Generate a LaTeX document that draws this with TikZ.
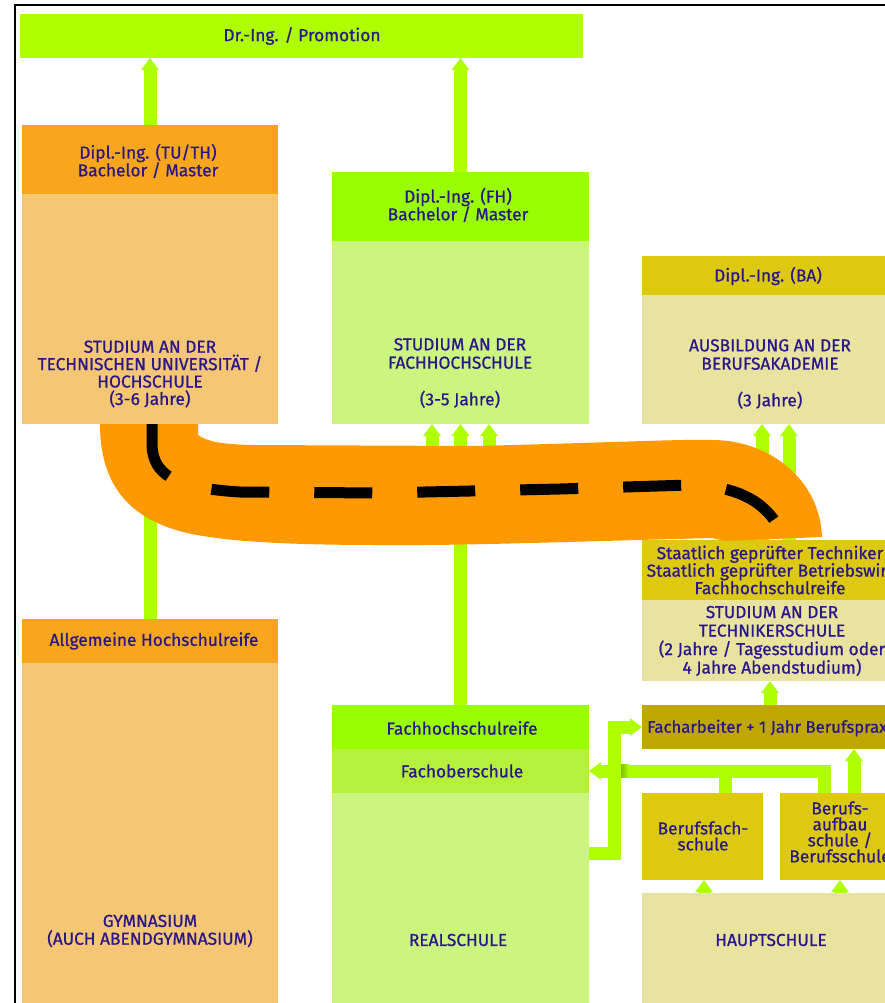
\documentclass[tikz,border=0pt]{standalone}
\usepackage{fontspec}
\setmainfont[FakeBold=0.8]{Fira Sans}
\usetikzlibrary{arrows.meta}
\definecolor{lime}{RGB}{174,255,0}
\definecolor{fhgreen}{RGB}{153,255,0}
\definecolor{fosgreen}{RGB}{181,240,58}
\definecolor{lightgreen}{RGB}{204,245,127}
\definecolor{orangeh}{RGB}{249,166,28}
\definecolor{orangeb}{RGB}{245,198,115}
\definecolor{yellowh}{RGB}{221,202,16}
\definecolor{yellowb}{RGB}{232,228,160}
\definecolor{olive}{RGB}{192,167,0}
\definecolor{band}{RGB}{255,153,0}
\definecolor{ink}{RGB}{42,22,140}
\begin{document}
\begin{tikzpicture}[x=1pt,y=-1pt,
  box/.style={rectangle, inner sep=0pt, outer sep=0pt, draw=none},
  txt/.style={text=ink, align=center, inner sep=0pt, font=\fontsize{17.3}{17.8}\selectfont},
  arr/.style={draw=lime, line width=13pt, -{Triangle[length=12pt,width=17pt]}},
  conn/.style={draw=lime, line width=13pt},
]
\useasboundingbox (0,0) rectangle (885,1003);
\clip (0,0) rectangle (885,1003);
\fill[white] (0,0) rectangle (885,1003);
\draw[line width=2pt] (15,1010) -- (15,5) -- (890,5);

% boxes
\node[box, fill=lime, minimum width=563, minimum height=44] (promo) at (301.5,36) {};
\node[box, fill=orangeh, minimum width=256, minimum height=69] (tuh) at (150,159.5) {};
\node[box, fill=orangeb, minimum width=256, minimum height=230] (tub) at (150,309) {};
\node[box, fill=fhgreen, minimum width=257, minimum height=69] (fhh) at (460.5,206.5) {};
\node[box, fill=lightgreen, minimum width=257, minimum height=183] (fhb) at (460.5,332.5) {};
\node[box, fill=yellowh, minimum width=258, minimum height=39] (bah) at (771,275.5) {};
\node[box, fill=yellowb, minimum width=258, minimum height=129] (bab) at (771,359.5) {};
\node[box, fill=yellowh, minimum width=258, minimum height=60] (sth) at (771,570) {};
\node[box, fill=yellowb, minimum width=258, minimum height=81] (tsb) at (771,640.5) {};
\node[box, fill=olive, minimum width=258, minimum height=44] (fa) at (771,727) {};
\node[box, fill=yellowh, minimum width=121, minimum height=87] (bfs) at (702.5,836.5) {};
\node[box, fill=yellowh, minimum width=120, minimum height=87] (bas) at (840,836.5) {};
\node[box, fill=yellowb, minimum width=258, minimum height=117] (hs) at (771,951.5) {};
\node[box, fill=orangeh, minimum width=256, minimum height=44] (allg) at (150,641) {};
\node[box, fill=orangeb, minimum width=256, minimum height=347] (gym) at (150,836.5) {};
\node[box, fill=fhgreen, minimum width=257, minimum height=44] (fhr) at (460.5,727) {};
\node[box, fill=fosgreen, minimum width=257, minimum height=44] (fos) at (460.5,771) {};
\node[box, fill=lightgreen, minimum width=257, minimum height=217] (rs) at (460.5,901.5) {};

% connector coordinates
\coordinate (f1) at (432,520);
\coordinate (f3) at (489,520);
\coordinate (st1) at (762,540);
\coordinate (st2) at (789,540);
\coordinate (fa1) at (770,705);
\coordinate (bas1) at (824,793);
\coordinate (bas2) at (854,793);
\coordinate (bfs1) at (725,793);
\coordinate (hs1) at (704,893);
\coordinate (hs2) at (840,893);
\coordinate (rsout) at (589,853);

% arrows
\draw[arr] (tuh.north) -- (tuh.north |- promo.south);
\draw[arr] (fhh.north) -- (fhh.north |- promo.south);
\draw[arr] (allg.north) -- (allg.north |- tub.south);
\draw[arr] (fhr.north) -- (fhr.north |- fhb.south);
\draw[arr] (f1) -- (f1 |- fhb.south);
\draw[arr] (f3) -- (f3 |- fhb.south);
\draw[arr] (st1) -- (st1 |- bab.south);
\draw[arr] (st2) -- (st2 |- bab.south);
\draw[arr] (fa1) -- (fa1 |- tsb.south);
\draw[arr] (bas2) -- (bas2 |- fa.south);
\draw[arr] (hs1) -- (hs1 |- bfs.south);
\draw[arr] (hs2) -- (hs2 |- bas.south);
\draw[arr] (rsout) -- ++(25,0) |- (fa.west);
\draw[conn] (bfs1) -- (bfs1 |- fos.east);
\draw[arr] (bas1) |- (fos.east);
\shade[left color=lime!75!black, right color=lime] (621,764.5) rectangle (629,777.5);

% orange band
\fill[band] (100,424) -- (198,424) -- (198,435)
  .. controls (208,442) and (222,444) .. (250,445)
  -- (473,446)
  .. controls (600,443) and (680,439) .. (712,440)
  .. controls (770,440) and (820,480) .. (822,537)
  -- (725,541) -- (712,538)
  .. controls (560,542) and (450,546) .. (377,545)
  .. controls (300,545) and (240,542) .. (210,537)
  .. controls (140,528) and (100,495) .. (100,424) -- cycle;
\draw[line width=11pt, dash pattern=on 58pt off 45pt]
  (152,424) -- (152,445) .. controls (153,475) and (175,488) .. (240,492)
  -- (380,493) -- (560,489) -- (690,485)
  .. controls (735,486) and (765,500) .. (780,530);

% texts
\node[txt] (tpromo) at (302,36) {Dr.-Ing. / Promotion};
\node[txt] (ttuh) at (148,161) {Dipl.-Ing. (TU/TH)\\Bachelor / Master};
\node[txt, font=\fontsize{17.3}{17.4}\selectfont] (ttub) at (150,374) {STUDIUM AN DER\\TECHNISCHEN UNIVERSITÄT /\\HOCHSCHULE\\(3-6 Jahre)};
\node[txt] (tfhh) at (458,205) {Dipl.-Ing. (FH)\\Bachelor / Master};
\node[txt, font=\fontsize{17.3}{18.3}\selectfont] (tfhb) at (460,373) {STUDIUM AN DER\\FACHHOCHSCHULE\\\mbox{}\\(3-5 Jahre)};
\node[txt] (tbah) at (768,276) {Dipl.-Ing. (BA)};
\node[txt, font=\fontsize{17.3}{18.3}\selectfont] (tbab) at (770,374) {AUSBILDUNG AN DER\\BERUFSAKADEMIE\\\mbox{}\\(3 Jahre)};
\node[txt, font=\fontsize{17.3}{17.5}\selectfont] (tsth) at (770,570) {Staatlich geprüfter Techniker\\Staatlich geprüfter Betriebswirt\\Fachhochschulreife};
\node[txt, font=\fontsize{17.3}{18.5}\selectfont] (ttsb) at (772,641) {STUDIUM AN DER\\TECHNIKERSCHULE\\(2 Jahre / Tagesstudium oder\\4 Jahre Abendstudium)};
\node[txt, anchor=west, font=\fontsize{16.7}{17.8}\selectfont] (tfa) at (647,728) {Facharbeiter + 1 Jahr Berufspraxis};
\node[txt, font=\fontsize{17.3}{16}\selectfont] (tbfs) at (703,836) {Berufsfach-\\schule};
\node[txt, font=\fontsize{17.3}{16}\selectfont] (tbas) at (840,832) {Berufs-\\aufbau\\schule /\\Berufsschule};
\node[txt] (ths) at (771,940) {HAUPTSCHULE};
\node[txt] (tallg) at (154,641) {Allgemeine Hochschulreife};
\node[txt] (tgym) at (150,931) {GYMNASIUM\\(AUCH ABENDGYMNASIUM)};
\node[txt] (tfhr) at (462,728) {Fachhochschulreife};
\node[txt] (tfos) at (462,771) {Fachoberschule};
\node[txt] (trs) at (458,940) {REALSCHULE};
\end{tikzpicture}
\end{document}
